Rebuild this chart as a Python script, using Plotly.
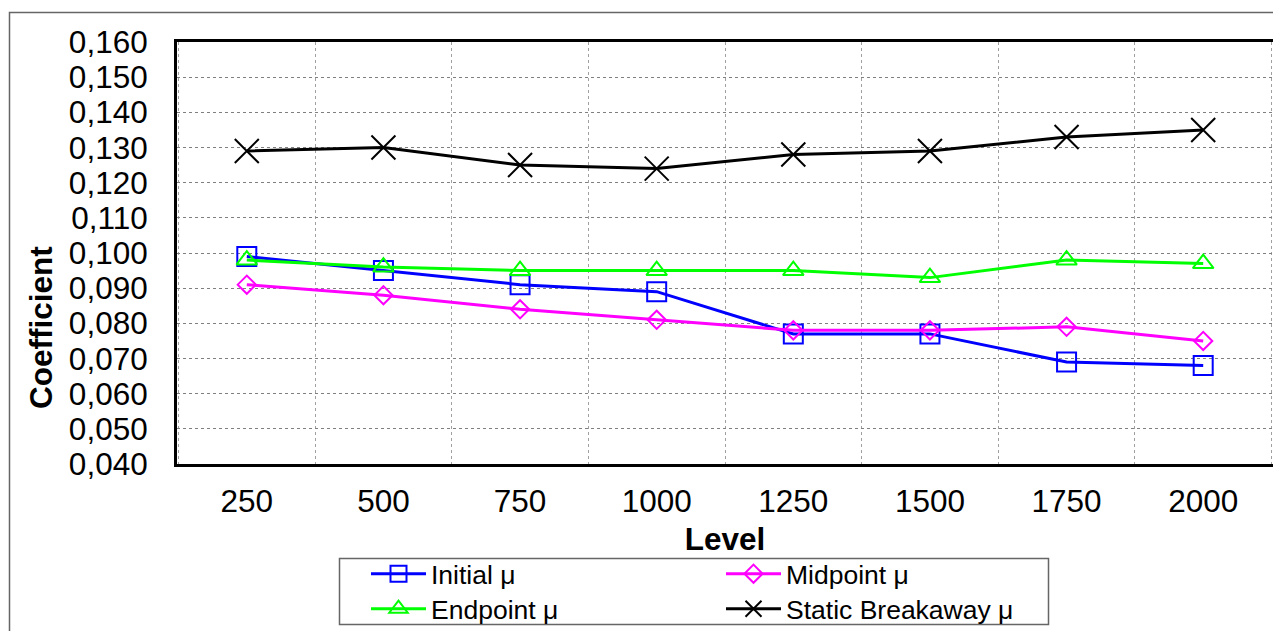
import plotly.graph_objects as go

levels = ["250", "500", "750", "1000", "1250", "1500", "1750", "2000"]
initial_mu = [0.099, 0.095, 0.091, 0.089, 0.077, 0.077, 0.069, 0.068]
midpoint_mu = [0.091, 0.088, 0.084, 0.081, 0.078, 0.078, 0.079, 0.075]
endpoint_mu = [0.098, 0.096, 0.095, 0.095, 0.095, 0.093, 0.098, 0.097]
static_mu = [0.129, 0.130, 0.125, 0.124, 0.128, 0.129, 0.133, 0.135]

# page body adds an 8px margin; work in screen coordinates and shift
OFF = 8
W, H = 1281 - OFF, 631 - OFF
L, R, T, B = 177, 1273, 42, 464   # screen coords of plot area
pw, ph = R - L, B - T

def px(x):
    return (x - L) / pw

def py(y):
    return (B - y) / ph

FONT = "Liberation Sans, Arial, sans-serif"

fig = go.Figure()
fig.add_trace(go.Scatter(
    x=levels, y=initial_mu, name="Initial μ", mode="lines+markers", legend="legend",
    line=dict(color="#0000FF", width=3),
    marker=dict(symbol="square-open", size=19, color="#0000FF", line=dict(width=2, color="#0000FF"))))
fig.add_trace(go.Scatter(
    x=levels, y=midpoint_mu, name="Midpoint μ", mode="lines+markers", legend="legend2",
    line=dict(color="#FF00FF", width=3),
    marker=dict(symbol="diamond-open", size=14, color="#FF00FF", line=dict(width=2, color="#FF00FF"))))
fig.add_trace(go.Scatter(
    x=levels, y=endpoint_mu, name="Endpoint μ", mode="lines+markers", legend="legend3",
    line=dict(color="#00FF00", width=3),
    marker=dict(symbol="triangle-up-open", size=18, color="#00FF00", line=dict(width=2, color="#00FF00"))))
fig.add_trace(go.Scatter(
    x=levels, y=static_mu, name="Static Breakaway μ", mode="lines+markers", legend="legend4",
    line=dict(color="#000000", width=3),
    marker=dict(symbol="x-thin", size=24, color="#000000", line=dict(width=2, color="#000000"))))

legend_common = dict(
    orientation="v", xanchor="left", yanchor="top",
    font=dict(family=FONT, size=26.5, color="#000000"),
    bgcolor="rgba(0,0,0,0)", borderwidth=0, itemwidth=55,
    tracegroupgap=0, itemclick=False, itemdoubleclick=False,
)

LX1, LX2 = 366, 721
LY1, LY2 = 550, 585

fig.update_layout(
    width=W, height=H,
    margin=dict(l=L - OFF, r=(1281 - R), t=T - OFF, b=631 - B, pad=0, autoexpand=False),
    paper_bgcolor="#FFFFFF", plot_bgcolor="#FFFFFF",
    separators=",.",
    font=dict(family=FONT, color="#000000"),
    showlegend=True,
    legend=dict(x=px(LX1), y=py(LY1), **legend_common),
    legend2=dict(x=px(LX2), y=py(LY1), **legend_common),
    legend3=dict(x=px(LX1), y=py(LY2), **legend_common),
    legend4=dict(x=px(LX2), y=py(LY2), **legend_common),
    xaxis=dict(
        type="category", tickson="boundaries", ticks="",
        showgrid=True, gridcolor="#A0A0A0", griddash="dot", gridwidth=1,
        showline=True, linecolor="#000000", linewidth=3, mirror=True,
        tickfont=dict(family=FONT, size=31.5, color="#000000"),
        ticklabelstandoff=7,
        title=dict(text="<b>Level</b>", font=dict(family=FONT, size=31.5, color="#000000"), standoff=11),
        zeroline=False,
    ),
    yaxis=dict(
        range=[0.04, 0.16], dtick=0.01, tick0=0.04, tickformat=".3f", ticks="",
        showgrid=True, gridcolor="#808080", griddash="dot", gridwidth=1,
        showline=True, linecolor="#000000", linewidth=3, mirror=True,
        tickfont=dict(family=FONT, size=31.5, color="#000000"),
        ticklabelstandoff=20,
        zeroline=False,
    ),
    annotations=[
        dict(text="<b>Coefficient</b>", xref="paper", yref="paper", x=px(41), y=py(328),
             xanchor="center", yanchor="middle", textangle=-90, showarrow=False,
             font=dict(family=FONT, size=31.5, color="#000000")),
    ],
    shapes=[
        dict(type="rect", xref="paper", yref="paper", x0=px(9.5), x1=px(1290), y0=py(12.5), y1=py(700),
             line=dict(color="#666666", width=1.5), fillcolor="rgba(0,0,0,0)", layer="below"),
        dict(type="rect", xref="paper", yref="paper", x0=px(339.5), x1=px(1048.5), y0=py(558.5), y1=py(624.5),
             line=dict(color="#666666", width=1.5), fillcolor="rgba(0,0,0,0)", layer="below"),
    ],
)

fig.write_html("out.html")
